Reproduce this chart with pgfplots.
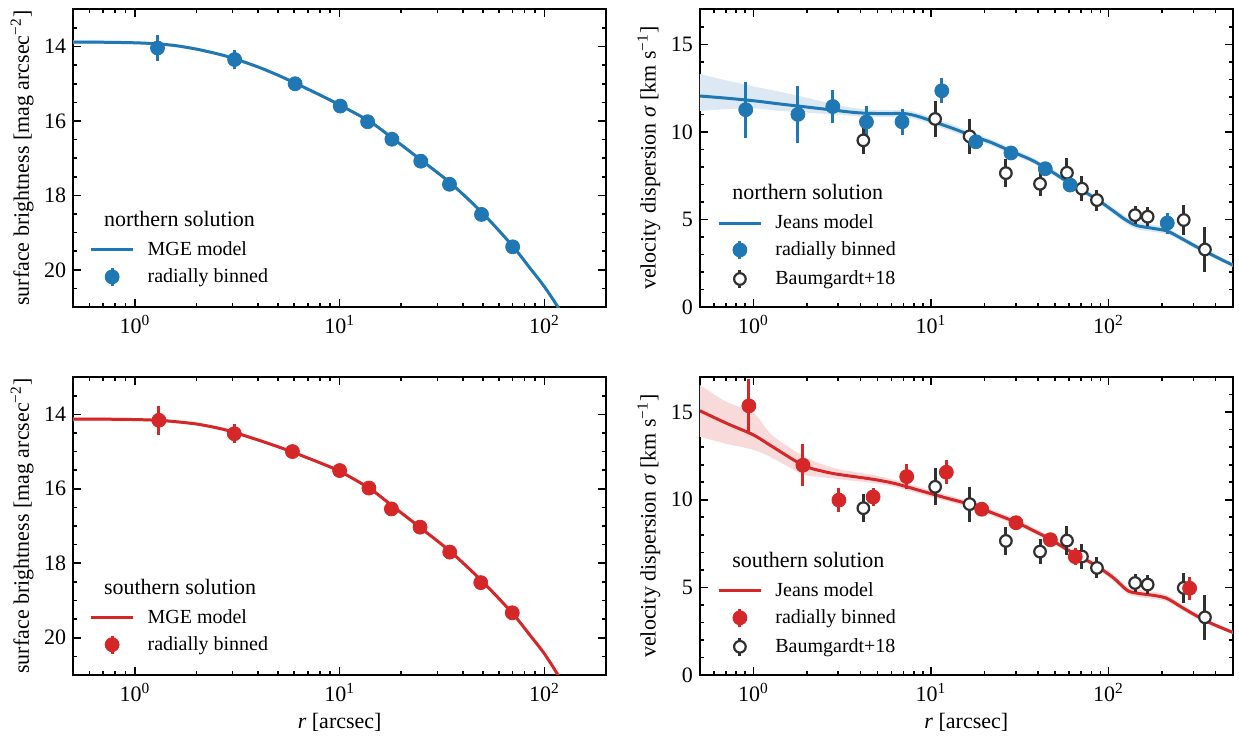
\documentclass[border=0pt]{standalone}
\usepackage{fontspec}
\setmainfont{Liberation Serif}
\usepackage{pgfplots}
\usepackage{pgfplotstable}
\pgfplotsset{compat=1.18}
\usepgfplotslibrary{groupplots,fillbetween}
\definecolor{tabblue}{HTML}{1F77B4}
\definecolor{tabred}{HTML}{D62728}
\definecolor{bandblue}{HTML}{DCE9F5}
\definecolor{bandred}{HTML}{F8DADB}
\definecolor{bgray}{HTML}{303030}

\pgfplotstableread{
r mu e
1.29 14.04 0.36
3.07 14.35 0.25
6.06 15.00 0.08
10.07 15.60 0.08
13.7 16.02 0.08
18.0 16.49 0.08
24.9 17.08 0.08
34.4 17.70 0.08
49.3 18.51 0.08
70.0 19.38 0.08
}\nsbpts
\pgfplotstableread{
r mu e
1.31 14.16 0.39
3.06 14.52 0.26
5.88 15.00 0.08
10.0 15.51 0.08
13.9 15.98 0.08
17.9 16.54 0.08
24.7 17.03 0.08
34.5 17.70 0.08
48.9 18.52 0.08
69.7 19.33 0.08
}\ssbpts
\pgfplotstableread{
r mu lo hi
0.5 13.88 13.83 13.93
0.7 13.885 13.84 13.93
1.0 13.90 13.86 13.94
1.3 13.93 13.89 13.97
1.6 13.98 13.94 14.02
2.0 14.07 14.03 14.11
2.5 14.19 14.15 14.23
3.0 14.31 14.27 14.35
4.0 14.55 14.51 14.59
5.0 14.77 14.73 14.81
6.0 14.97 14.93 15.01
8.0 15.30 15.26 15.34
10.0 15.57 15.53 15.61
14.0 16.01 15.97 16.05
18.0 16.45 16.41 16.49
25.0 17.05 17.01 17.09
35.0 17.68 17.64 17.72
50.0 18.48 18.44 18.52
70.0 19.36 19.32 19.40
85.0 19.95 19.91 19.99
100.0 20.45 20.41 20.49
118.0 21.05 21.01 21.09
130.0 21.50 21.46 21.54
}\nsbmod
\pgfplotstableread{
r mu lo hi
0.5 14.13 14.08 14.18
0.7 14.13 14.08 14.18
1.0 14.14 14.10 14.18
1.3 14.16 14.12 14.20
1.6 14.20 14.16 14.24
2.0 14.26 14.22 14.30
2.5 14.36 14.32 14.40
3.0 14.47 14.43 14.51
4.0 14.69 14.65 14.73
5.0 14.87 14.83 14.91
6.0 15.03 14.99 15.07
8.0 15.30 15.26 15.34
10.0 15.53 15.49 15.57
14.0 15.99 15.95 16.03
18.0 16.45 16.41 16.49
25.0 17.06 17.02 17.10
35.0 17.70 17.66 17.74
50.0 18.50 18.46 18.54
70.0 19.35 19.31 19.39
85.0 19.93 19.89 19.97
100.0 20.43 20.39 20.47
118.0 21.05 21.01 21.09
130.0 21.50 21.46 21.54
}\ssbmod
\pgfplotstableread{
r s e
0.905 11.27 1.6
1.78 11.0 1.65
2.8 11.45 0.95
4.33 10.57 0.9
6.87 10.58 0.75
11.5 12.35 0.7
17.9 9.44 0.3
28.2 8.8 0.3
44 7.9 0.3
60.7 6.97 0.3
214 4.8 0.6
}\nsig
\pgfplotstableread{
r s e
0.943 15.36 1.55
1.9 11.97 1.2
3.03 9.98 0.68
4.72 10.16 0.5
7.3 11.32 0.7
12.2 11.57 0.68
19.3 9.46 0.25
30.1 8.69 0.25
47 7.72 0.3
64.9 6.75 0.5
286 4.95 0.66
}\ssig
\pgfplotstableread{
r s e
4.16 9.52 0.8
10.55 10.74 1.05
16.5 9.75 1.0
26.4 7.65 0.8
41.1 7.04 0.7
58.3 7.67 0.85
70.8 6.76 0.7
86 6.11 0.6
141 5.25 0.5
166 5.16 0.55
265 4.97 0.85
349 3.29 1.3
}\baum
\pgfplotstableread{
r s lo hi
0.5 12.05 11.20 13.30
0.7 11.93 11.30 12.95
1.0 11.78 11.35 12.60
1.4 11.60 11.20 12.30
2.0 11.42 11.10 11.95
2.8 11.25 11.00 11.60
3.8 11.10 10.90 11.35
5.0 11.05 10.85 11.25
6.9 11.05 10.85 11.25
7.8 10.98 10.78 11.18
9.0 10.80 10.60 11.00
10.6 10.55 10.35 10.75
13.7 10.15 9.95 10.35
17.8 9.71 9.52 9.90
21.8 9.40 9.22 9.58
28.2 8.90 8.73 9.07
36.3 8.43 8.27 8.60
44 7.96 7.80 8.12
52 7.50 7.34 7.66
60.7 7.05 6.90 7.20
74.7 6.53 6.38 6.68
89 6.05 5.90 6.20
106 5.50 5.33 5.67
124 5.00 4.80 5.20
144 4.66 4.45 4.87
177 4.50 4.30 4.70
214 4.34 4.16 4.52
254 3.95 3.80 4.10
312 3.45 3.30 3.60
388 2.95 2.82 3.08
500 2.40 2.30 2.50
}\njeans
\pgfplotstableread{
r s lo hi
0.5 15.08 13.60 16.55
0.7 14.38 13.20 15.60
1.0 13.70 12.85 14.95
1.27 13.05 12.40 13.70
1.9 11.97 11.45 12.50
2.4 11.65 11.30 12.05
3.0 11.45 11.18 11.75
4.7 11.17 10.95 11.42
6.3 10.92 10.72 11.12
8.7 10.52 10.33 10.71
12.2 10.10 9.92 10.29
16 9.78 9.60 9.96
19.3 9.48 9.30 9.66
24.2 9.10 8.93 9.27
30.1 8.72 8.55 8.89
38.3 8.21 8.05 8.37
47 7.74 7.58 7.90
64.9 6.88 6.72 7.04
82.6 6.32 6.16 6.48
106 5.56 5.38 5.74
127 4.84 4.65 5.03
144 4.67 4.47 4.87
177 4.55 4.35 4.75
212 4.38 4.20 4.56
254 3.91 3.75 4.07
312 3.38 3.23 3.53
383 2.92 2.80 3.04
500 2.43 2.33 2.53
}\sjeans

\newcommand{\bigf}{\fontsize{11}{13}\selectfont}
\pgfplotsset{
  leg line/.style={legend image code/.code={\draw[line width=1.5pt,#1] (0pt,0pt)--(21pt,0pt);}},
  leg filled/.style={legend image code/.code={\draw[line width=1.5pt,#1] (10.5pt,-4.5pt)--(10.5pt,4.5pt); \fill[#1] (10.5pt,0pt) circle[radius=3.5pt];}},
  leg open/.style={legend image code/.code={\draw[line width=1.5pt,bgray] (10.5pt,-4.5pt)--(10.5pt,4.5pt); \draw[line width=1.1pt,bgray,fill=white] (10.5pt,0pt) circle[radius=2.9pt];}},
  errfilled/.style={only marks, mark=*, mark size=3.5pt, color=#1, forget plot,
    error bars/.cd, y dir=both, y explicit, error mark=none,
    error bar style={line width=1.5pt, #1}},
  erropen/.style={only marks, mark=*, mark size=2.9pt, mark options={fill=white, draw=bgray, line width=1.1pt}, color=bgray, forget plot,
    error bars/.cd, y dir=both, y explicit, error mark=none,
    error bar style={line width=1.5pt, bgray}},
  sbaxis/.style={xmin=0.5, xmax=200, ymin=13, ymax=21, y dir=reverse,
    ytick={14,16,18,20}, minor ytick={13.5,14.5,15,15.5,16.5,17,17.5,18.5,19,19.5,20.5},
    minor xtick={0.6,0.7,0.8,0.9,2,3,4,5,6,7,8,9,20,30,40,50,60,70,80,90},
    ylabel={surface brightness [mag arcsec\textsuperscript{−2}]}},
  sigaxis/.style={xmin=0.5, xmax=500, ymin=0, ymax=17,
    ytick={0,5,10,15}, minor ytick={1,2,3,4,6,7,8,9,11,12,13,14,16},
    minor xtick={0.6,0.7,0.8,0.9,2,3,4,5,6,7,8,9,20,30,40,50,60,70,80,90,200,300,400},
    ylabel={velocity dispersion \textit{σ} [km s\textsuperscript{−1}]}},
  myleg/.style={legend style={draw=none, fill=none, at={(axis description cs:#1)}, anchor=south west,
    inner sep=0pt, row sep=4pt, column sep=6.5pt, nodes={inner sep=0pt}, font=\normalsize}, legend cell align=left},
}

\begin{document}
\begin{tikzpicture}
\begin{groupplot}[
  group style={group size=2 by 2, horizontal sep=47pt, vertical sep=35pt},
  scale only axis, width=266.5pt, height=149pt,
  xmode=log, log basis x=10,
  axis line style={line width=0.8pt},
  every tick/.style={line width=0.8pt, black},
  major tick length=4pt, minor tick length=2pt,
  tick align=inside, tick pos=both,
  xtick={1,10,100}, xticklabels={10\textsuperscript{0},10\textsuperscript{1},10\textsuperscript{2}},
  /pgf/number format/assume math mode=true,
  tick label style={font=\bigf},
  label style={font=\bigf},
  ylabel style={at={(axis description cs:-0.096,0.5)}, anchor=center},
  xlabel style={at={(axis description cs:0.5,-0.16)}, anchor=center},
  xticklabel style={yshift=-0.5pt},
]
% ---------- top left
\nextgroupplot[sbaxis, myleg={0.030,0.065}]
\addplot[draw=none, smooth, name path=au, forget plot] table[x=r,y=hi] {\nsbmod};
\addplot[draw=none, smooth, name path=al, forget plot] table[x=r,y=lo] {\nsbmod};
\addplot[bandblue, forget plot] fill between[of=au and al];
\addplot[tabblue, line width=1.5pt, smooth, forget plot] table[x=r,y=mu] {\nsbmod};
\addplot[errfilled=tabblue] table[x=r,y=mu,y error=e] {\nsbpts};
\addlegendimage{leg line=tabblue}
\addlegendentry{MGE model}
\addlegendimage{leg filled=tabblue}
\addlegendentry{radially binned}
\node[anchor=west, inner sep=0pt, font=\bigf] at (rel axis cs:0.057,0.295) {northern solution};
\coordinate (tl) at (rel axis cs:0,1);
% ---------- top right
\nextgroupplot[sigaxis, myleg={0.032,0.058}]
\addplot[draw=none, smooth, name path=bu, forget plot] table[x=r,y=hi] {\njeans};
\addplot[draw=none, smooth, name path=bl, forget plot] table[x=r,y=lo] {\njeans};
\addplot[bandblue, forget plot] fill between[of=bu and bl];
\addplot[tabblue, line width=1.5pt, smooth, forget plot] table[x=r,y=s] {\njeans};
\addplot[erropen] table[x=r,y=s,y error=e] {\baum};
\addplot[errfilled=tabblue] table[x=r,y=s,y error=e] {\nsig};
\addlegendimage{leg line=tabblue}
\addlegendentry{Jeans model}
\addlegendimage{leg filled=tabblue}
\addlegendentry{radially binned}
\addlegendimage{leg open}
\addlegendentry{Baumgardt+18}
\node[anchor=west, inner sep=0pt, font=\bigf] at (rel axis cs:0.060,0.385) {northern solution};
% ---------- bottom left
\nextgroupplot[sbaxis, myleg={0.030,0.065}, xlabel={\textit{r} [arcsec]}]
\addplot[draw=none, smooth, name path=cu, forget plot] table[x=r,y=hi] {\ssbmod};
\addplot[draw=none, smooth, name path=cl, forget plot] table[x=r,y=lo] {\ssbmod};
\addplot[bandred, forget plot] fill between[of=cu and cl];
\addplot[tabred, line width=1.5pt, smooth, forget plot] table[x=r,y=mu] {\ssbmod};
\addplot[errfilled=tabred] table[x=r,y=mu,y error=e] {\ssbpts};
\addlegendimage{leg line=tabred}
\addlegendentry{MGE model}
\addlegendimage{leg filled=tabred}
\addlegendentry{radially binned}
\node[anchor=west, inner sep=0pt, font=\bigf] at (rel axis cs:0.057,0.295) {southern solution};
% ---------- bottom right
\nextgroupplot[sigaxis, myleg={0.032,0.058}, xlabel={\textit{r} [arcsec]}]
\addplot[draw=none, smooth, name path=du, forget plot] table[x=r,y=hi] {\sjeans};
\addplot[draw=none, smooth, name path=dl, forget plot] table[x=r,y=lo] {\sjeans};
\addplot[bandred, forget plot] fill between[of=du and dl];
\addplot[tabred, line width=1.5pt, smooth, forget plot] table[x=r,y=s] {\sjeans};
\addplot[erropen] table[x=r,y=s,y error=e] {\baum};
\addplot[errfilled=tabred] table[x=r,y=s,y error=e] {\ssig};
\addlegendimage{leg line=tabred}
\addlegendentry{Jeans model}
\addlegendimage{leg filled=tabred}
\addlegendentry{radially binned}
\addlegendimage{leg open}
\addlegendentry{Baumgardt+18}
\node[anchor=west, inner sep=0pt, font=\bigf] at (rel axis cs:0.060,0.385) {southern solution};
\coordinate (br) at (rel axis cs:1,0);
\end{groupplot}
\pgfresetboundingbox
\path[use as bounding box] ([shift={(-36.65pt,4.65pt)}]tl) rectangle ([shift={(3.15pt,-31.25pt)}]br);
\end{tikzpicture}
\end{document}
